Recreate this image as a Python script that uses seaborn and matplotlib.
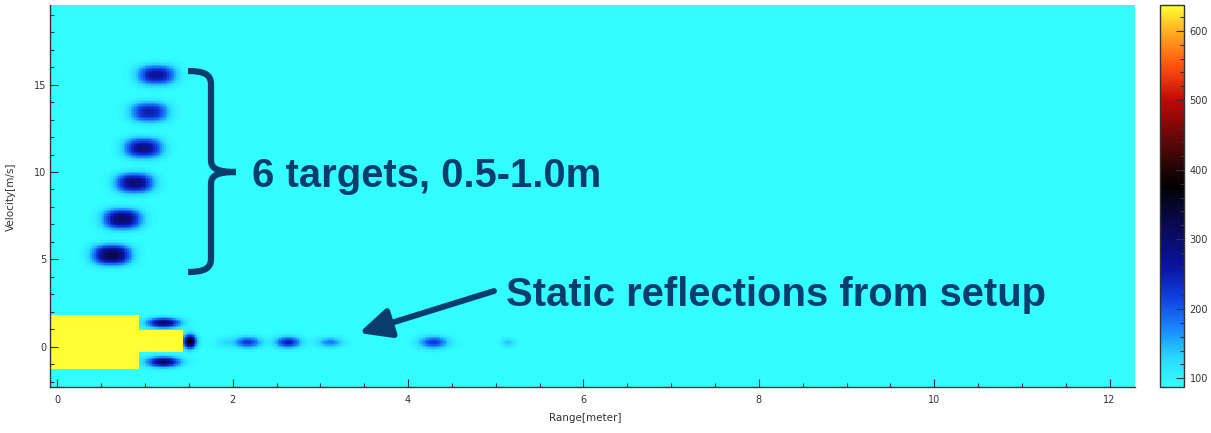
import numpy as np
import pandas as pd
import matplotlib
matplotlib.use("Agg")
import matplotlib.pyplot as plt
import seaborn as sns
from matplotlib.colors import LinearSegmentedColormap
from matplotlib.ticker import FixedLocator
from matplotlib.path import Path
from matplotlib.patches import PathPatch
import matplotlib.transforms as mtransforms

# ---------------- data ----------------
# six moving targets (range [m], velocity [m/s], peak level)
target_range = [0.62, 0.74, 0.88, 0.98, 1.05, 1.13]
target_velocity = [5.25, 7.31, 9.37, 11.37, 13.43, 15.55]
target_level = [325, 305, 295, 282, 250, 268]

# static reflections near zero velocity
static_range = [1.21, 1.21, 1.51, 1.90, 2.17, 2.63, 3.11, 4.29, 5.14]
static_velocity = [1.36, -0.88, 0.30, 0.25, 0.25, 0.25, 0.25, 0.25, 0.25]
static_level = [310, 310, 385, 120, 225, 250, 180, 225, 140]
static_range_spread = [0.18, 0.18, 0.07, 0.10, 0.15, 0.14, 0.14, 0.16, 0.08]
static_velocity_spread = [0.28, 0.28, 0.38, 0.30, 0.32, 0.32, 0.28, 0.34, 0.25]

# saturated (clipped) region at short range
saturated_range_max = [0.93, 1.43]
saturated_velocity_min = [-1.22, -0.29]
saturated_velocity_max = [1.81, 0.96]
saturated_level = 2000.0
background_level = 90.0

x_ticks = [0, 2, 4, 6, 8, 10, 12]
y_ticks = [0, 5, 10, 15]
cbar_ticks = [100, 200, 300, 400, 500, 600]
level_min, level_max = 87.5, 637.0

cmap_levels = [87.5, 130, 170, 215, 260, 310, 357, 376, 405, 453, 501, 549, 600, 637]
cmap_colors = ['#33ffff', '#28d8ff', '#1a88ff', '#1040e0', '#0a14a0', '#0a0a60',
               '#050520', '#000000', '#250505', '#700808', '#c00808', '#ff5010',
               '#ffb020', '#ffff33']

# ---------------- grid / field ----------------
x_lo, x_hi = -0.084, 12.29
y_lo, y_hi = -2.31, 19.56
ncols, nrows = 620, 250
dr = (x_hi - x_lo) / ncols
dv = (y_hi - y_lo) / nrows
r_c = x_lo + (np.arange(ncols) + 0.5) * dr
v_c = y_hi - (np.arange(nrows) + 0.5) * dv
R, V = np.meshgrid(r_c, v_c)

field = np.full(R.shape, background_level)
target_sr, target_sv, target_p = 0.21, 0.55, 2.5
for r0, v0, lev in zip(target_range, target_velocity, target_level):
    field += (lev - background_level) * np.exp(-np.abs((R - r0) / target_sr) ** target_p
                                               - np.abs((V - v0) / target_sv) ** target_p)
for r0, v0, lev, sr, sv in zip(static_range, static_velocity, static_level,
                               static_range_spread, static_velocity_spread):
    field += (lev - background_level) * np.exp(-((R - r0) / sr) ** 2
                                               - ((V - v0) / sv) ** 2)
for rmax, vmin_, vmax_ in zip(saturated_range_max, saturated_velocity_min,
                              saturated_velocity_max):
    field[(R < rmax) & (V > vmin_) & (V < vmax_)] = saturated_level

df = pd.DataFrame(field, index=np.round(v_c, 3), columns=np.round(r_c, 3))

# ---------------- figure ----------------
sns.set_theme(style="white")
plt.rcParams['font.family'] = ['DejaVu Sans']
plt.rcParams['axes.axisbelow'] = False

W, H = 1211, 433
fig = plt.figure(figsize=(W / 100, H / 100), dpi=100, facecolor='white')
ax = fig.add_axes([50 / W, 1 - 387 / H, 1085 / W, 382 / H])
cax = fig.add_axes([1160 / W, 1 - 387 / H, 24 / W, 382 / H])

cmap = LinearSegmentedColormap.from_list(
    'radar', [((l - level_min) / (level_max - level_min), c)
              for l, c in zip(cmap_levels, cmap_colors)])

sns.heatmap(df, ax=ax, cbar_ax=cax, cmap=cmap, vmin=level_min, vmax=level_max,
            xticklabels=False, yticklabels=False, rasterized=True)
ax.set_axisbelow(False)

def xpos(r):
    return (np.asarray(r, dtype=float) - x_lo) / dr

def ypos(v):
    return (y_hi - np.asarray(v, dtype=float)) / dv

axis_col = '#333333'
ax.set_xticks(xpos(x_ticks))
ax.set_xticklabels([str(t) for t in x_ticks], rotation=0)
ax.set_yticks(ypos(y_ticks))
ax.set_yticklabels([str(t) for t in y_ticks], rotation=0)
ax.xaxis.set_minor_locator(FixedLocator(xpos(np.arange(0, 12.5, 0.5))))
ax.yaxis.set_minor_locator(FixedLocator(ypos(np.arange(-2, 20, 1))))
ax.set_xlim(0, ncols)
ax.set_ylim(nrows, 0)

for s in ['left', 'bottom']:
    ax.spines[s].set_visible(True)
    ax.spines[s].set_color(axis_col)
    ax.spines[s].set_linewidth(1.0)
    ax.spines[s].set_zorder(5)
for s in ['top', 'right']:
    ax.spines[s].set_visible(False)

ax.tick_params(axis='both', which='both', direction='in', color=axis_col,
               labelcolor=axis_col, labelsize=7, width=0.8,
               bottom=True, left=True, top=False, right=False)
ax.tick_params(axis='both', which='major', length=6)
ax.tick_params(axis='both', which='minor', length=3)
ax.tick_params(axis='x', which='major', pad=5.5)
ax.tick_params(axis='y', which='major', pad=2.5)

ax.set_xlabel('Range[meter]', fontsize=7.5, color=axis_col)
ax.xaxis.set_label_coords(0.493, -0.081)
ax.xaxis.label.set_va('center')
ax.set_ylabel('Velocity[m/s]', fontsize=7.5, color=axis_col)
ax.yaxis.set_label_coords(-0.036, 0.497)
ax.yaxis.label.set_va('center')

cb = ax.collections[0].colorbar
cb.set_ticks(cbar_ticks)
cb.ax.yaxis.set_minor_locator(FixedLocator(np.arange(100, 640, 20)))
cb.ax.set_axisbelow(False)
cb.ax.tick_params(which='both', direction='in', color=axis_col, labelcolor=axis_col,
                  labelsize=7, width=0.8, right=True, left=False)
cb.ax.tick_params(which='major', length=6, pad=4)
cb.ax.tick_params(which='minor', length=3)
cb.outline.set_visible(True)
cb.outline.set_linewidth(1.0)
cb.outline.set_edgecolor(axis_col)

# ---------------- annotations (figure pixel coordinates) ----------------
pix = mtransforms.Affine2D().scale(1 / W, -1 / H).translate(0, 1) + fig.transFigure
navy = '#0a3c6e'

fig.text(252, 186.7, '6 targets, 0.5-1.0m', transform=pix, fontsize=28.8,
         fontweight='bold', family='Liberation Sans', color=navy,
         ha='left', va='baseline')
fig.text(506, 305.7, 'Static reflections from setup', transform=pix, fontsize=28.8,
         fontweight='bold', family='Liberation Sans', color=navy,
         ha='left', va='baseline')

upper = Path([(188, 71), (203, 71), (211, 74), (211, 84), (211, 160),
              (211, 168), (216, 172), (236, 172)],
             [Path.MOVETO, Path.CURVE4, Path.CURVE4, Path.CURVE4, Path.LINETO,
              Path.CURVE4, Path.CURVE4, Path.CURVE4])
lower = Path([(236, 172), (216, 172), (211, 176), (211, 184), (211, 259),
              (211, 269), (203, 272), (188, 272)],
             [Path.MOVETO, Path.CURVE4, Path.CURVE4, Path.CURVE4, Path.LINETO,
              Path.CURVE4, Path.CURVE4, Path.CURVE4])
for p in (upper, lower):
    fig.add_artist(PathPatch(p, transform=pix, fill=False, lw=4.5, edgecolor=navy,
                             capstyle='butt', joinstyle='round'))

ax.annotate('', xy=(359, 333), xycoords=pix, xytext=(494, 291), textcoords=pix,
            arrowprops=dict(arrowstyle='-|>,head_length=0.95,head_width=0.45',
                            mutation_scale=20, lw=4.3, color=navy,
                            shrinkA=0, shrinkB=0))

fig.savefig('out.png', dpi=100, facecolor='white')
